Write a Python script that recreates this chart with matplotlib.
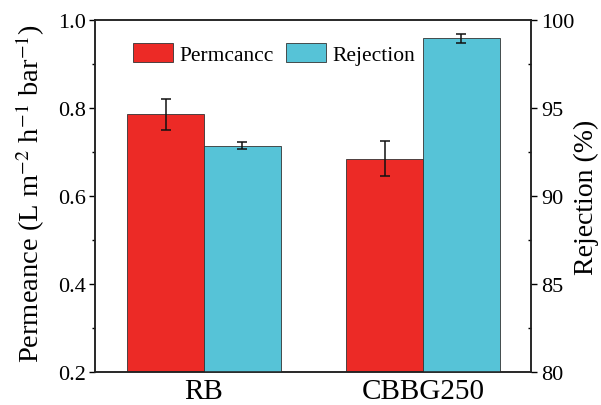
import numpy as np
import matplotlib.pyplot as plt
from matplotlib.ticker import MultipleLocator

plt.rcParams['font.family'] = ['Liberation Serif', 'DejaVu Serif']
plt.rcParams['mathtext.fontset'] = 'stix'

# data
samples = ['RB', 'CBBG250']
permeance = [0.786, 0.685]
permeance_err = [0.035, 0.040]
rejection = [92.85, 98.96]
rejection_err = [0.21, 0.26]

red = '#EC2A26'
cyan = '#56C3D7'

fig = plt.figure(figsize=(6.01, 4.06), dpi=100)
ax = fig.add_axes([0.158, 0.082, 0.726, 0.866])
ax2 = ax.twinx()

x = np.arange(len(samples))
w = 0.35

b1 = ax.bar(x - w / 2, permeance, w, color=red, edgecolor='#333333', linewidth=0.6,
            label='Permcancc', zorder=2)
ax.errorbar(x - w / 2, permeance, yerr=permeance_err, fmt='none', ecolor='#111111',
            elinewidth=1.1, capsize=3.3, capthick=1.1, zorder=3)

b2 = ax2.bar(x + w / 2, rejection, w, color=cyan, edgecolor='#333333', linewidth=0.6,
             label='Rejection', zorder=2)
ax2.errorbar(x + w / 2, rejection, yerr=rejection_err, fmt='none', ecolor='#111111',
             elinewidth=1.1, capsize=3.3, capthick=1.1, zorder=3)

ax.set_xlim(-0.498, 1.495)
ax.set_ylim(0.2, 1.0)
ax2.set_ylim(80, 100)

ax.set_xticks(x)
ax.set_xticklabels(samples, fontsize=21)
ax.tick_params(axis='x', length=0, pad=4.5)

ax.yaxis.set_major_locator(MultipleLocator(0.2))
ax.yaxis.set_minor_locator(MultipleLocator(0.1))
ax.tick_params(axis='y', which='major', direction='out', length=4.5, width=1, labelsize=16, pad=2)
ax.tick_params(axis='y', which='minor', direction='out', length=2.5, width=1)

ax2.yaxis.set_major_locator(MultipleLocator(5))
ax2.yaxis.set_minor_locator(MultipleLocator(2.5))
ax2.tick_params(axis='y', which='major', direction='out', length=4.5, width=1, labelsize=16, pad=2.5)
ax2.tick_params(axis='y', which='minor', direction='in', length=2.5, width=1)

ax.set_ylabel(r'Permeance (L m$^{-2}$ h$^{-1}$ bar$^{-1}$)', fontsize=20.5)
ax.yaxis.set_label_coords(-0.11, 0.51)
ax2.set_ylabel('Rejection (%)', fontsize=20)
ax2.yaxis.set_label_coords(1.098, 0.5)

for a in (ax, ax2):
    for s in a.spines.values():
        s.set_linewidth(1.1)
        s.set_color('#222222')

ax2.legend(handles=[b1, b2], loc='upper left', bbox_to_anchor=(0.087, 0.935), ncol=2,
           frameon=False, fontsize=15.5, handlelength=1.85, handleheight=0.95,
           columnspacing=0.6, handletextpad=0.3, borderpad=0, borderaxespad=0)

fig.savefig('out.png', dpi=100)
